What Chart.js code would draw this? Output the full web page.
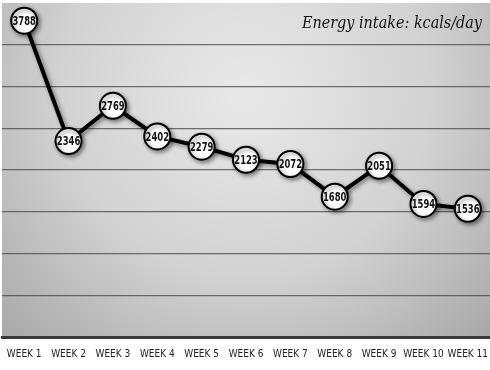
<!DOCTYPE html>
<html>
<head>
<meta charset="utf-8">
<script src="https://cdn.jsdelivr.net/npm/chart.js@4/dist/chart.umd.min.js"></script>
<style>
  body { margin: 0; background: #fff; }
  canvas { display: block; }
</style>
</head>
<body>
<canvas id="intakeChart" width="490" height="370"></canvas>
<script>
var weeks = ["WEEK 1", "WEEK 2", "WEEK 3", "WEEK 4", "WEEK 5", "WEEK 6", "WEEK 7", "WEEK 8", "WEEK 9", "WEEK 10", "WEEK 11"];
var kcals = [3788, 2346, 2769, 2402, 2279, 2123, 2072, 1680, 2051, 1594, 1536];
var chartTitle = "Energy intake: kcals/day";

var narrowFont = "'DejaVu Sans', sans-serif";

// grey radial backdrop behind the plot
var backdrop = {
    id: 'backdrop',
    beforeDraw: function (chart) {
        var a = chart.chartArea, ctx = chart.ctx;
        var cx = (a.left + a.right) / 2, cy = a.top + 90;
        var g = ctx.createRadialGradient(cx, cy, 10, cx, cy, 360);
        g.addColorStop(0, '#e8e8e8');
        g.addColorStop(0.5, '#d2d2d2');
        g.addColorStop(1, '#a4a4a4');
        ctx.save();
        ctx.fillStyle = g;
        ctx.fillRect(a.left, a.top, a.right - a.left, a.bottom - a.top);
        ctx.restore();
    }
};

// drop shadow under line and circles
var shadow = {
    id: 'shadow',
    beforeDatasetsDraw: function (chart) {
        var ctx = chart.ctx;
        ctx.save();
        ctx.shadowColor = 'rgba(0,0,0,0.45)';
        ctx.shadowBlur = 4;
        ctx.shadowOffsetX = 2;
        ctx.shadowOffsetY = 2;
    },
    afterDatasetsDraw: function (chart) {
        chart.ctx.restore();
    }
};

// numbers inside the circles + script title
var labels = {
    id: 'labels',
    afterDatasetsDraw: function (chart) {
        var ctx = chart.ctx;
        var meta = chart.getDatasetMeta(0);
        ctx.save();
        ctx.fillStyle = '#111';
        ctx.textAlign = 'center';
        ctx.textBaseline = 'middle';
        ctx.font = "bold condensed 12px " + narrowFont;
        meta.data.forEach(function (pt, i) {
            ctx.save();
            ctx.translate(pt.x, pt.y + 1);
            ctx.scale(0.78, 1);  // squeeze digits to fit the circle
            ctx.fillText(kcals[i], 0, 0);
            ctx.restore();
        });
        ctx.font = "italic condensed 16px 'DejaVu Serif', serif";
        ctx.textAlign = 'right';
        ctx.textBaseline = 'alphabetic';
        ctx.fillText(chartTitle, chart.chartArea.right - 8, 28);
        ctx.restore();
    }
};

new Chart(document.getElementById('intakeChart'), {
    type: 'line',
    data: {
        labels: weeks,
        datasets: [{
            data: kcals,
            borderColor: '#000',
            borderWidth: 4,
            tension: 0,
            pointRadius: 13,
            pointBorderWidth: 2,
            pointBorderColor: '#000',
            pointBackgroundColor: '#fff'
        }]
    },
    options: {
        responsive: false,
        animation: false,
        layout: { autoPadding: false, padding: { top: 3, left: 2, right: 0, bottom: 0 } },
        plugins: { legend: { display: false }, tooltip: { enabled: false } },
        scales: {
            x: {
                offset: true,
                grid: { display: false },
                border: { color: '#3a3a3a', width: 3 },
                afterFit: function (scale) {
                    scale.paddingLeft = 0;
                    scale.paddingRight = 0;
                    scale.height = 33;
                },
                ticks: {
                    color: '#222',
                    padding: 3,
                    maxRotation: 0,
                    autoSkip: false,
                    font: { family: narrowFont, size: 10, weight: 'condensed' }
                }
            },
            y: {
                min: 0,
                max: 4000,
                ticks: { display: false, stepSize: 500 },
                border: { display: false },
                afterFit: function (scale) { scale.width = 0; },
                grid: {
                    drawTicks: false,
                    lineWidth: 1.3,
                    color: function (c) {
                        return (c.tick && c.tick.value === 4000) ? 'rgba(0,0,0,0)' : 'rgba(70,70,70,0.75)';
                    }
                }
            }
        }
    },
    plugins: [backdrop, shadow, labels]
});
</script>
</body>
</html>
